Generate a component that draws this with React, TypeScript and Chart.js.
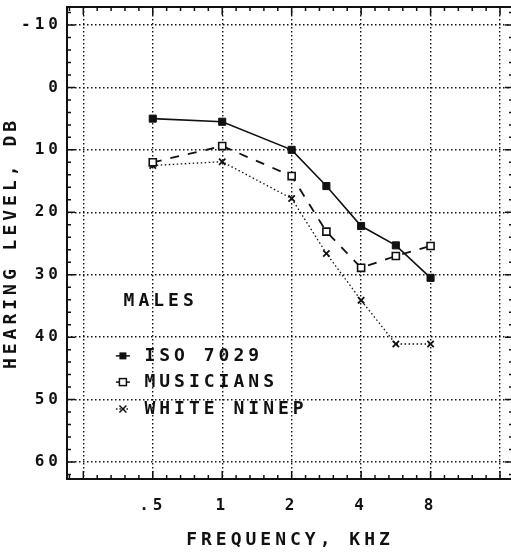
import React, { useEffect, useRef } from 'react';
import { Chart, registerables } from 'chart.js';

Chart.register(...registerables);

// Frequencies (kHz) and their position on the audiogram axis (octaves above 0.5 kHz;
// half-octave frequencies sit midway between octave lines on this chart)
const freqLabels = ['.5', '1', '2', '3', '4', '6', '8'];
const octavePos = [0, 1, 2, 2.5, 3, 3.5, 4];

// Hearing level, dB
const isoValues = [5, 5.5, 10, 15.8, 22.2, 25.3, 30.5];
const musicianValues = [12, 9.4, 14.2, 23.1, 28.9, 27.0, 25.4];
const whiteNoiseValues = [12.5, 11.9, 17.8, 26.6, 34.1, 41.1, 41.1];

const xTickLabels: Record<string, string> = { '0': '.5', '1': '1', '2': '2', '3': '4', '4': '8' };
const seriesNames = ['ISO 7029', 'MUSICIANS', 'WHITE NINEP'];
const panelLabel = 'MALES';
const xTitle = 'FREQUENCY, KHZ';
const yTitle = 'HEARING LEVEL, DB';

const FONT = '"DejaVu Sans Mono", monospace';
const INK = '#111';
const SPACING = '4px';

const toPoints = (vals: number[]) => vals.map((v, i) => ({ x: octavePos[i], y: v }));

const spacingPlugin = {
  id: 'letterSpacing',
  beforeUpdate(chart: any) { chart.ctx.letterSpacing = SPACING; },
  beforeLayout(chart: any) { chart.ctx.letterSpacing = SPACING; },
  beforeDraw(chart: any) { chart.ctx.letterSpacing = SPACING; },
};

const framePlugin = {
  id: 'frame',
  beforeDatasetsDraw(chart: any) {
    const { ctx, chartArea, scales } = chart;
    const { left, right, top, bottom } = chartArea;
    const x = scales.x;
    const y = scales.y;
    ctx.save();
    ctx.setLineDash([]);
    ctx.strokeStyle = INK;
    ctx.lineWidth = 2;
    ctx.strokeRect(left, top, right - left, bottom - top);
    ctx.lineWidth = 1.5;
    ctx.beginPath();
    for (let v = -12; v <= 62; v += 2) {
      const py = y.getPixelForValue(v);
      const len = v % 10 === 0 ? 8 : 4;
      ctx.moveTo(left, py); ctx.lineTo(left + len, py);
      ctx.moveTo(right, py); ctx.lineTo(right - len, py);
    }
    for (let i = -7; i <= 27; i++) {
      const v = i / 5;
      if (v < x.min || v > x.max) continue;
      const px = x.getPixelForValue(v);
      const len = i % 5 === 0 ? 8 : 4;
      ctx.moveTo(px, top); ctx.lineTo(px, top + len);
      ctx.moveTo(px, bottom); ctx.lineTo(px, bottom - len);
    }
    ctx.stroke();
    ctx.restore();
  },
};

const legendPlugin = {
  id: 'inlineLegend',
  afterDatasetsDraw(chart: any) {
    const { ctx, scales } = chart;
    const x = scales.x;
    const y = scales.y;
    ctx.save();
    ctx.letterSpacing = SPACING;
    ctx.fillStyle = INK;
    ctx.strokeStyle = INK;
    ctx.font = `bold 18px ${FONT}`;
    ctx.textBaseline = 'middle';
    ctx.textAlign = 'left';
    const lx = x.getPixelForValue(-0.42);
    ctx.fillText(panelLabel, lx, y.getPixelForValue(34.2));
    const rowVals = [43, 47.2, 51.5];
    const mx = x.getPixelForValue(-0.43);
    const tx = x.getPixelForValue(-0.12);
    rowVals.forEach((rv, i) => {
      const py = y.getPixelForValue(rv);
      ctx.lineWidth = 1.5;
      ctx.setLineDash(i === 2 ? [1.5, 2] : []);
      ctx.beginPath();
      ctx.moveTo(mx - 7, py); ctx.lineTo(mx + 7, py);
      ctx.stroke();
      ctx.setLineDash([]);
      if (i === 0) {
        ctx.fillRect(mx - 3.5, py - 3.5, 7, 7);
      } else if (i === 1) {
        ctx.fillStyle = '#fff';
        ctx.fillRect(mx - 3.5, py - 3.5, 7, 7);
        ctx.fillStyle = INK;
        ctx.strokeRect(mx - 3.5, py - 3.5, 7, 7);
      } else {
        ctx.beginPath();
        ctx.moveTo(mx - 3.5, py - 3.5); ctx.lineTo(mx + 3.5, py + 3.5);
        ctx.moveTo(mx + 3.5, py - 3.5); ctx.lineTo(mx - 3.5, py + 3.5);
        ctx.stroke();
      }
      ctx.fillText(seriesNames[i], tx, py);
    });
    ctx.restore();
  },
};

export default function App() {
  const ref = useRef<HTMLCanvasElement | null>(null);

  useEffect(() => {
    if (!ref.current) return;
    const chart = new Chart(ref.current, {
      type: 'line',
      data: {
        datasets: [
          {
            label: seriesNames[0],
            data: toPoints(isoValues),
            borderColor: INK,
            borderWidth: 1.6,
            pointStyle: 'rect',
            pointRadius: 5,
            pointBackgroundColor: INK,
            pointBorderColor: INK,
            pointBorderWidth: 1,
          },
          {
            label: seriesNames[1],
            data: toPoints(musicianValues),
            borderColor: INK,
            borderWidth: 1.8,
            borderDash: [9, 9],
            pointStyle: 'rect',
            pointRadius: 5,
            pointBackgroundColor: '#fff',
            pointBorderColor: INK,
            pointBorderWidth: 1.6,
          },
          {
            label: seriesNames[2],
            data: toPoints(whiteNoiseValues),
            borderColor: INK,
            borderWidth: 1.3,
            borderDash: [1.5, 2.5],
            pointStyle: 'crossRot',
            pointRadius: 4.5,
            pointBorderColor: INK,
            pointBorderWidth: 1.8,
          },
        ],
      },
      options: {
        responsive: false,
        devicePixelRatio: 1,
        animation: false,
        events: [],
        layout: { autoPadding: false, padding: { top: 7, right: 1, left: 0, bottom: 0 } },
        plugins: { legend: { display: false }, tooltip: { enabled: false }, title: { display: false } },
        scales: {
          x: {
            type: 'linear',
            min: -1.235,
            max: 5.187,
            afterFit: (s: any) => {
              s.height = 74;
              s.paddingLeft = 0; s.paddingRight = 0; s.paddingTop = 0; s.paddingBottom = 0;
            },
            border: { display: false, dash: [1.5, 2.5] },
            grid: { color: INK, lineWidth: 1.4, drawTicks: false },
            ticks: {
              stepSize: 1,
              includeBounds: false,
              autoSkip: false,
              maxRotation: 0,
              padding: 17,
              color: INK,
              font: { family: FONT, size: 16, weight: 'bold' },
              callback: (v: any) => xTickLabels[String(v)] ?? '',
            },
            title: {
              display: true,
              text: xTitle,
              color: INK,
              font: { family: FONT, size: 18, weight: 'bold' },
              padding: { top: 0, bottom: 2 },
            },
          },
          y: {
            type: 'linear',
            reverse: true,
            min: -12.88,
            max: 62.72,
            afterFit: (s: any) => {
              s.width = 67;
              s.paddingLeft = 0; s.paddingRight = 0; s.paddingTop = 0; s.paddingBottom = 0;
            },
            border: { display: false, dash: [1.5, 2.5] },
            grid: { color: INK, lineWidth: 1.4, drawTicks: false },
            ticks: {
              stepSize: 10,
              includeBounds: false,
              padding: 5,
              color: INK,
              font: { family: FONT, size: 16, weight: 'bold' },
            },
            title: {
              display: true,
              text: yTitle,
              color: INK,
              font: { family: FONT, size: 18, weight: 'bold' },
              padding: { top: 1, bottom: 0 },
            },
          },
        },
      } as any,
      plugins: [spacingPlugin, framePlugin, legendPlugin],
    });
    return () => chart.destroy();
  }, []);

  return (
    <div style={{ position: 'fixed', left: 0, top: 0, width: 514, height: 553, background: '#fff' }}>
      <canvas ref={ref} width={514} height={553} style={{ display: 'block' }} />
    </div>
  );
}
